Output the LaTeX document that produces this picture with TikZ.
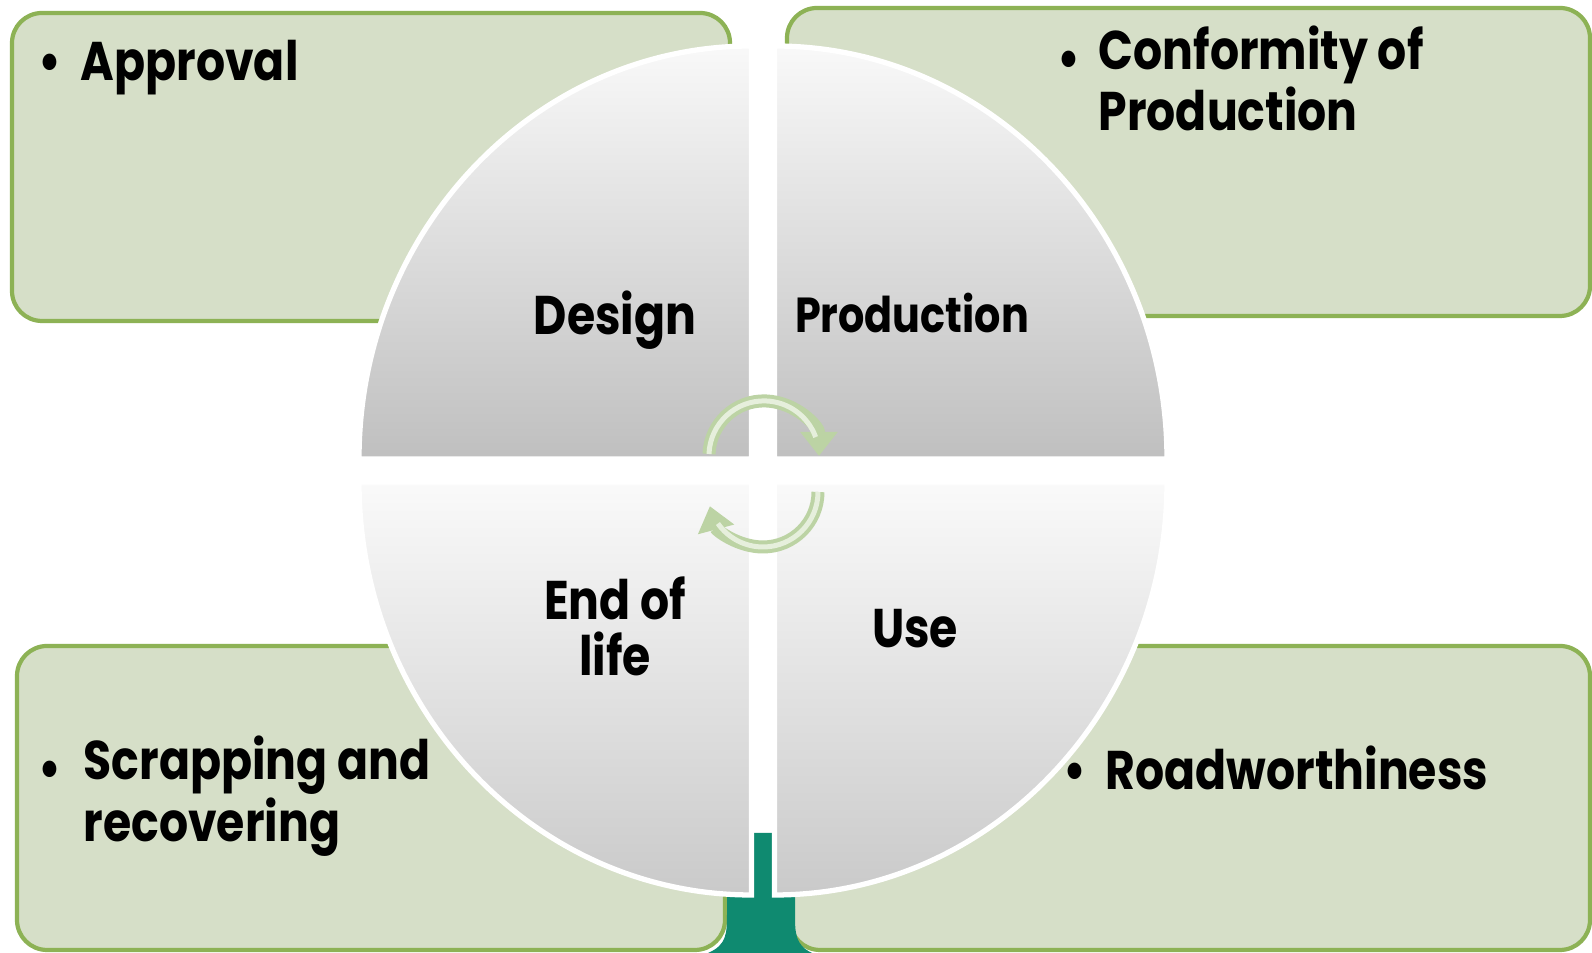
\documentclass[tikz,border=0pt]{standalone}
\usepackage{fontspec}
\setmainfont{Poppins}[FakeStretch=0.84]
\usetikzlibrary{arrows.meta}
\definecolor{boksgronn}{HTML}{D6DFC8}
\definecolor{kantgronn}{HTML}{8DB255}
\definecolor{pilgronn}{HTML}{BCD3A4}
\definecolor{pillys}{HTML}{E6EFDC}
\definecolor{stilkgronn}{HTML}{0F8A70}
\begin{document}
\begin{tikzpicture}[
	boks/.style={fill=boksgronn, draw=kantgronn, line width=1.2pt, rounded corners=0.3cm},
	punkt/.style={anchor=base west, inner sep=0pt, align=left, font=\fontsize{15.5}{15}\selectfont\bfseries},
	etikett/.style={anchor=base, inner sep=0pt, align=center, font=\fontsize{15.5}{16.2}\selectfont\bfseries},
	kvart/.style={draw=white, line width=1.5pt},
	pil/.style={draw=pilgronn, line width=0.13cm, -{Triangle[width=0.36cm,length=0.24cm]}}
	]
		\useasboundingbox (0,0) rectangle (15.92,9.53);
		\fill[white] (0,0) rectangle (15.92,9.53);
		
		% Boksene
		\draw[boks] (0.12,6.32) rectangle (7.30,9.40);
		\draw[boks] (7.87,6.37) rectangle (15.90,9.45);
		\draw[boks] (0.17,0.03) rectangle (7.25,3.07);
		\draw[boks] (7.90,0.03) rectangle (15.90,3.07);
		
		% Stilken under sirkelen
		\fill[stilkgronn] (7.08,0) .. controls (7.27,0.08) and (7.27,0.2) .. (7.27,0.4)
			-- (7.27,1.2) -- (7.95,1.2) -- (7.95,0.4) .. controls (7.95,0.2) and (7.95,0.08) .. (8.12,0) -- cycle;
		
		% Kvartsirklene
		\shadedraw[kvart, top color=gray!5, bottom color=gray!50] (7.515,4.94) -- (3.59,4.94)
			arc[start angle=180, end angle=90, x radius=3.925, y radius=4.13] -- cycle;
		\shadedraw[kvart, top color=gray!5, bottom color=gray!50] (7.745,4.94) -- (7.745,9.07)
			arc[start angle=90, end angle=0, x radius=3.925, y radius=4.13] -- cycle;
		\shadedraw[kvart, top color=gray!4, bottom color=gray!42] (7.515,4.71) -- (3.59,4.71)
			arc[start angle=180, end angle=270, x radius=3.925, y radius=4.13] -- cycle;
		\shadedraw[kvart, top color=gray!4, bottom color=gray!42] (7.745,4.71) -- (11.67,4.71)
			arc[start angle=0, end angle=-90, x radius=3.925, y radius=4.13] -- cycle;
		
		% Syklus-pilene i midten
		\coordinate (pil1) at (7.09,4.99);
		\coordinate (pil2) at (8.18,4.61);
		\draw[pil] (pil1) arc[start angle=178, end angle=0, radius=0.55];
		\draw[pil] (pil2) arc[start angle=0, end angle=-165, radius=0.55];
		\draw[pillys, line width=0.05cm] (pil1) arc[start angle=178, end angle=20, radius=0.55];
		\draw[pillys, line width=0.05cm] (pil2) arc[start angle=0, end angle=-145, radius=0.55];
		
		% Tekst i boksene
		\node[punkt] (pA) at (0.38,8.72) {•};
		\node[punkt] (godkj) at (0.80,8.72) {Approval};
		\node[punkt] (pB) at (10.57,8.75) {•};
		\node[punkt] (konf) at (10.98,8.22) {Conformity of\\Production};
		\node[punkt] (pC) at (0.38,1.65) {•};
		\node[punkt] (skrap) at (0.83,1.11) {Scrapping and\\recovering};
		\node[punkt] (pD) at (10.63,1.63) {•};
		\node[punkt] (vei) at (11.05,1.63) {Roadworthiness};
		
		% Tekst i kvartsirklene
		\node[etikett] (design) at (6.15,6.18) {Design};
		\node[etikett, font=\fontsize{14}{15}\selectfont\bfseries] (prod) at (9.12,6.20) {Production};
		\node[etikett] (slutt) at (6.15,2.77) {End of\\life};
		\node[etikett] (bruk) at (9.15,3.05) {Use};
	\end{tikzpicture}
\end{document}
